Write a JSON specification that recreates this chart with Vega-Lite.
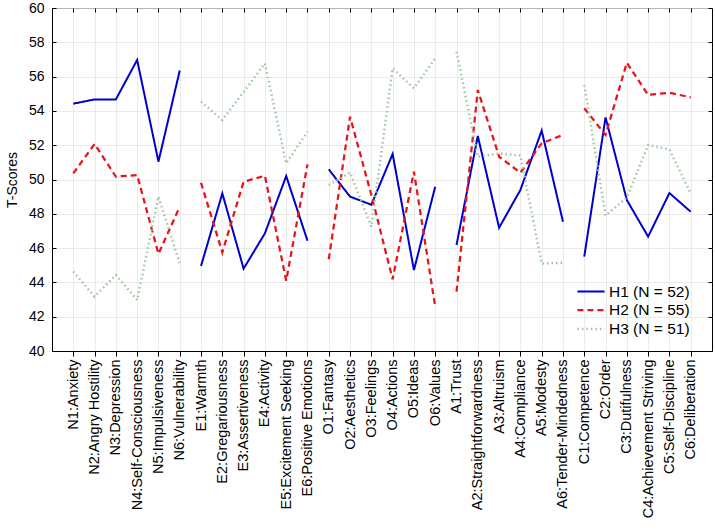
{
  "$schema": "https://vega.github.io/schema/vega-lite/v6.json",
  "width": 660,
  "height": 343,
  "autosize": {"type": "none"},
  "padding": {"left": 52, "top": 8, "right": 3, "bottom": 179},
  "background": "white",
  "config": {
    "font": "Liberation Sans",
    "view": {"stroke": "black", "strokeWidth": 1},
    "axis": {"labelColor": "black", "titleColor": "black", "domainColor": "black", "tickColor": "black", "gridColor": "#e6e6e6", "gridWidth": 0.8, "labelFont": "Liberation Sans", "titleFont": "Liberation Sans"}
  },
  "data": {
    "values": [
      {"facet": "N1:Anxiety", "domain": "N", "series": "H1 (N = 52)", "value": 54.42},
      {"facet": "N2:Angry Hostility", "domain": "N", "series": "H1 (N = 52)", "value": 54.67},
      {"facet": "N3:Depression", "domain": "N", "series": "H1 (N = 52)", "value": 54.67},
      {"facet": "N4:Self-Consciousness", "domain": "N", "series": "H1 (N = 52)", "value": 56.97},
      {"facet": "N5:Impulsiveness", "domain": "N", "series": "H1 (N = 52)", "value": 51.04},
      {"facet": "N6:Vulnerability", "domain": "N", "series": "H1 (N = 52)", "value": 56.35},
      {"facet": "E1:Warmth", "domain": "E", "series": "H1 (N = 52)", "value": 44.96},
      {"facet": "E2:Gregariousness", "domain": "E", "series": "H1 (N = 52)", "value": 49.19},
      {"facet": "E3:Assertiveness", "domain": "E", "series": "H1 (N = 52)", "value": 44.8},
      {"facet": "E4:Activity", "domain": "E", "series": "H1 (N = 52)", "value": 46.86},
      {"facet": "E5:Excitement Seeking", "domain": "E", "series": "H1 (N = 52)", "value": 50.2},
      {"facet": "E6:Positive Emotions", "domain": "E", "series": "H1 (N = 52)", "value": 46.43},
      {"facet": "O1:Fantasy", "domain": "O", "series": "H1 (N = 52)", "value": 50.59},
      {"facet": "O2:Aesthetics", "domain": "O", "series": "H1 (N = 52)", "value": 49.0},
      {"facet": "O3:Feelings", "domain": "O", "series": "H1 (N = 52)", "value": 48.53},
      {"facet": "O4:Actions", "domain": "O", "series": "H1 (N = 52)", "value": 51.49},
      {"facet": "O5:Ideas", "domain": "O", "series": "H1 (N = 52)", "value": 44.72},
      {"facet": "O6:Values", "domain": "O", "series": "H1 (N = 52)", "value": 49.58},
      {"facet": "A1:Trust", "domain": "A", "series": "H1 (N = 52)", "value": 46.18},
      {"facet": "A2:Straightforwardness", "domain": "A", "series": "H1 (N = 52)", "value": 52.54},
      {"facet": "A3:Altruism", "domain": "A", "series": "H1 (N = 52)", "value": 47.19},
      {"facet": "A4:Compliance", "domain": "A", "series": "H1 (N = 52)", "value": 49.39},
      {"facet": "A5:Modesty", "domain": "A", "series": "H1 (N = 52)", "value": 52.85},
      {"facet": "A6:Tender-Mindedness", "domain": "A", "series": "H1 (N = 52)", "value": 47.54},
      {"facet": "C1:Competence", "domain": "C", "series": "H1 (N = 52)", "value": 45.5},
      {"facet": "C2:Order", "domain": "C", "series": "H1 (N = 52)", "value": 53.62},
      {"facet": "C3:Dutifulness", "domain": "C", "series": "H1 (N = 52)", "value": 48.8},
      {"facet": "C4:Achievement Striving", "domain": "C", "series": "H1 (N = 52)", "value": 46.67},
      {"facet": "C5:Self-Discipline", "domain": "C", "series": "H1 (N = 52)", "value": 49.21},
      {"facet": "C6:Deliberation", "domain": "C", "series": "H1 (N = 52)", "value": 48.12},

      {"facet": "N1:Anxiety", "domain": "N", "series": "H2 (N = 55)", "value": 50.36},
      {"facet": "N2:Angry Hostility", "domain": "N", "series": "H2 (N = 55)", "value": 52.07},
      {"facet": "N3:Depression", "domain": "N", "series": "H2 (N = 55)", "value": 50.17},
      {"facet": "N4:Self-Consciousness", "domain": "N", "series": "H2 (N = 55)", "value": 50.26},
      {"facet": "N5:Impulsiveness", "domain": "N", "series": "H2 (N = 55)", "value": 45.66},
      {"facet": "N6:Vulnerability", "domain": "N", "series": "H2 (N = 55)", "value": 48.41},
      {"facet": "E1:Warmth", "domain": "E", "series": "H2 (N = 55)", "value": 49.81},
      {"facet": "E2:Gregariousness", "domain": "E", "series": "H2 (N = 55)", "value": 45.75},
      {"facet": "E3:Assertiveness", "domain": "E", "series": "H2 (N = 55)", "value": 49.87},
      {"facet": "E4:Activity", "domain": "E", "series": "H2 (N = 55)", "value": 50.22},
      {"facet": "E5:Excitement Seeking", "domain": "E", "series": "H2 (N = 55)", "value": 44.1},
      {"facet": "E6:Positive Emotions", "domain": "E", "series": "H2 (N = 55)", "value": 50.88},
      {"facet": "O1:Fantasy", "domain": "O", "series": "H2 (N = 55)", "value": 45.35},
      {"facet": "O2:Aesthetics", "domain": "O", "series": "H2 (N = 55)", "value": 53.66},
      {"facet": "O3:Feelings", "domain": "O", "series": "H2 (N = 55)", "value": 49.1},
      {"facet": "O4:Actions", "domain": "O", "series": "H2 (N = 55)", "value": 44.18},
      {"facet": "O5:Ideas", "domain": "O", "series": "H2 (N = 55)", "value": 50.46},
      {"facet": "O6:Values", "domain": "O", "series": "H2 (N = 55)", "value": 42.58},
      {"facet": "A1:Trust", "domain": "A", "series": "H2 (N = 55)", "value": 43.46},
      {"facet": "A2:Straightforwardness", "domain": "A", "series": "H2 (N = 55)", "value": 55.22},
      {"facet": "A3:Altruism", "domain": "A", "series": "H2 (N = 55)", "value": 51.33},
      {"facet": "A4:Compliance", "domain": "A", "series": "H2 (N = 55)", "value": 50.4},
      {"facet": "A5:Modesty", "domain": "A", "series": "H2 (N = 55)", "value": 52.11},
      {"facet": "A6:Tender-Mindedness", "domain": "A", "series": "H2 (N = 55)", "value": 52.6},
      {"facet": "C1:Competence", "domain": "C", "series": "H2 (N = 55)", "value": 54.15},
      {"facet": "C2:Order", "domain": "C", "series": "H2 (N = 55)", "value": 52.6},
      {"facet": "C3:Dutifulness", "domain": "C", "series": "H2 (N = 55)", "value": 56.81},
      {"facet": "C4:Achievement Striving", "domain": "C", "series": "H2 (N = 55)", "value": 54.93},
      {"facet": "C5:Self-Discipline", "domain": "C", "series": "H2 (N = 55)", "value": 55.06},
      {"facet": "C6:Deliberation", "domain": "C", "series": "H2 (N = 55)", "value": 54.79},

      {"facet": "N1:Anxiety", "domain": "N", "series": "H3 (N = 51)", "value": 44.63},
      {"facet": "N2:Angry Hostility", "domain": "N", "series": "H3 (N = 51)", "value": 43.17},
      {"facet": "N3:Depression", "domain": "N", "series": "H3 (N = 51)", "value": 44.43},
      {"facet": "N4:Self-Consciousness", "domain": "N", "series": "H3 (N = 51)", "value": 42.97},
      {"facet": "N5:Impulsiveness", "domain": "N", "series": "H3 (N = 51)", "value": 49.0},
      {"facet": "N6:Vulnerability", "domain": "N", "series": "H3 (N = 51)", "value": 45.1},
      {"facet": "E1:Warmth", "domain": "E", "series": "H3 (N = 51)", "value": 54.54},
      {"facet": "E2:Gregariousness", "domain": "E", "series": "H3 (N = 51)", "value": 53.47},
      {"facet": "E3:Assertiveness", "domain": "E", "series": "H3 (N = 51)", "value": 55.1},
      {"facet": "E4:Activity", "domain": "E", "series": "H3 (N = 51)", "value": 56.77},
      {"facet": "E5:Excitement Seeking", "domain": "E", "series": "H3 (N = 51)", "value": 50.94},
      {"facet": "E6:Positive Emotions", "domain": "E", "series": "H3 (N = 51)", "value": 52.79},
      {"facet": "O1:Fantasy", "domain": "O", "series": "H3 (N = 51)", "value": 49.68},
      {"facet": "O2:Aesthetics", "domain": "O", "series": "H3 (N = 51)", "value": 50.4},
      {"facet": "O3:Feelings", "domain": "O", "series": "H3 (N = 51)", "value": 47.25},
      {"facet": "O4:Actions", "domain": "O", "series": "H3 (N = 51)", "value": 56.48},
      {"facet": "O5:Ideas", "domain": "O", "series": "H3 (N = 51)", "value": 55.32},
      {"facet": "O6:Values", "domain": "O", "series": "H3 (N = 51)", "value": 57.07},
      {"facet": "A1:Trust", "domain": "A", "series": "H3 (N = 51)", "value": 57.45},
      {"facet": "A2:Straightforwardness", "domain": "A", "series": "H3 (N = 51)", "value": 51.33},
      {"facet": "A3:Altruism", "domain": "A", "series": "H3 (N = 51)", "value": 51.52},
      {"facet": "A4:Compliance", "domain": "A", "series": "H3 (N = 51)", "value": 51.4},
      {"facet": "A5:Modesty", "domain": "A", "series": "H3 (N = 51)", "value": 45.1},
      {"facet": "A6:Tender-Mindedness", "domain": "A", "series": "H3 (N = 51)", "value": 45.15},
      {"facet": "C1:Competence", "domain": "C", "series": "H3 (N = 51)", "value": 55.5},
      {"facet": "C2:Order", "domain": "C", "series": "H3 (N = 51)", "value": 47.9},
      {"facet": "C3:Dutifulness", "domain": "C", "series": "H3 (N = 51)", "value": 48.95},
      {"facet": "C4:Achievement Striving", "domain": "C", "series": "H3 (N = 51)", "value": 52.01},
      {"facet": "C5:Self-Discipline", "domain": "C", "series": "H3 (N = 51)", "value": 51.75},
      {"facet": "C6:Deliberation", "domain": "C", "series": "H3 (N = 51)", "value": 49.19}
    ]
  },
  "layer": [
    {
      "mark": {"type": "line", "strokeCap": "butt", "strokeJoin": "miter"},
      "encoding": {
        "x": {
          "field": "facet",
          "type": "ordinal",
          "sort": null,
          "scale": {"type": "point", "padding": 1},
          "axis": {"title": null, "labelAngle": -90, "labelFontSize": 14.5, "grid": true, "tickSize": 5, "labelPadding": 3, "domain": true}
        },
        "y": {
          "field": "value",
          "type": "quantitative",
          "scale": {"domain": [40, 60], "nice": false, "zero": false},
          "axis": {"title": "T-Scores", "values": [40, 42, 44, 46, 48, 50, 52, 54, 56, 58, 60], "labelFontSize": 14, "titleFontSize": 14, "titleFontWeight": "normal", "tickSize": -4, "labelPadding": 12, "titlePadding": 9, "grid": true}
        },
        "color": {
          "field": "series",
          "type": "nominal",
          "scale": {"domain": ["H1 (N = 52)", "H2 (N = 55)", "H3 (N = 51)"], "range": ["#0000cc", "#e8141c", "#9cc89c"]},
          "legend": {"title": null, "orient": "none", "legendX": 529, "legendY": 274, "labelFontSize": 15.5, "labelColor": "black", "symbolType": "M-1.6,0H1.6", "symbolSize": 289, "rowPadding": 0, "labelOffset": 8}
        },
        "strokeDash": {
          "field": "series",
          "type": "nominal",
          "scale": {"domain": ["H1 (N = 52)", "H2 (N = 55)", "H3 (N = 51)"], "range": [[1, 0], [6, 4], [1.5, 3]]},
          "legend": {"title": null, "orient": "none", "legendX": 529, "legendY": 274, "labelFontSize": 15.5, "labelColor": "black", "symbolType": "M-1.6,0H1.6", "symbolSize": 289, "rowPadding": 0, "labelOffset": 8}
        },
        "strokeWidth": {
          "field": "series",
          "type": "nominal",
          "scale": {"domain": ["H1 (N = 52)", "H2 (N = 55)", "H3 (N = 51)"], "range": [2, 2.5, 1.3]},
          "legend": {"title": null, "orient": "none", "legendX": 529, "legendY": 274, "labelFontSize": 15.5, "labelColor": "black", "symbolType": "M-1.6,0H1.6", "symbolSize": 289, "rowPadding": 0, "labelOffset": 8}
        },
        "detail": {"field": "domain"}
      }
    },
    {
      "mark": {"type": "point", "opacity": 0},
      "encoding": {
        "x": {
          "field": "facet",
          "type": "ordinal",
          "sort": null,
          "axis": {"orient": "top", "title": null, "labels": false, "grid": false, "domain": false, "tickSize": -4}
        },
        "y": {
          "field": "value",
          "type": "quantitative",
          "axis": {"orient": "right", "title": null, "labels": false, "grid": false, "domain": false, "tickSize": -4, "values": [40, 42, 44, 46, 48, 50, 52, 54, 56, 58, 60]}
        }
      }
    }
  ],
  "resolve": {"axis": {"x": "independent", "y": "independent"}}
}
